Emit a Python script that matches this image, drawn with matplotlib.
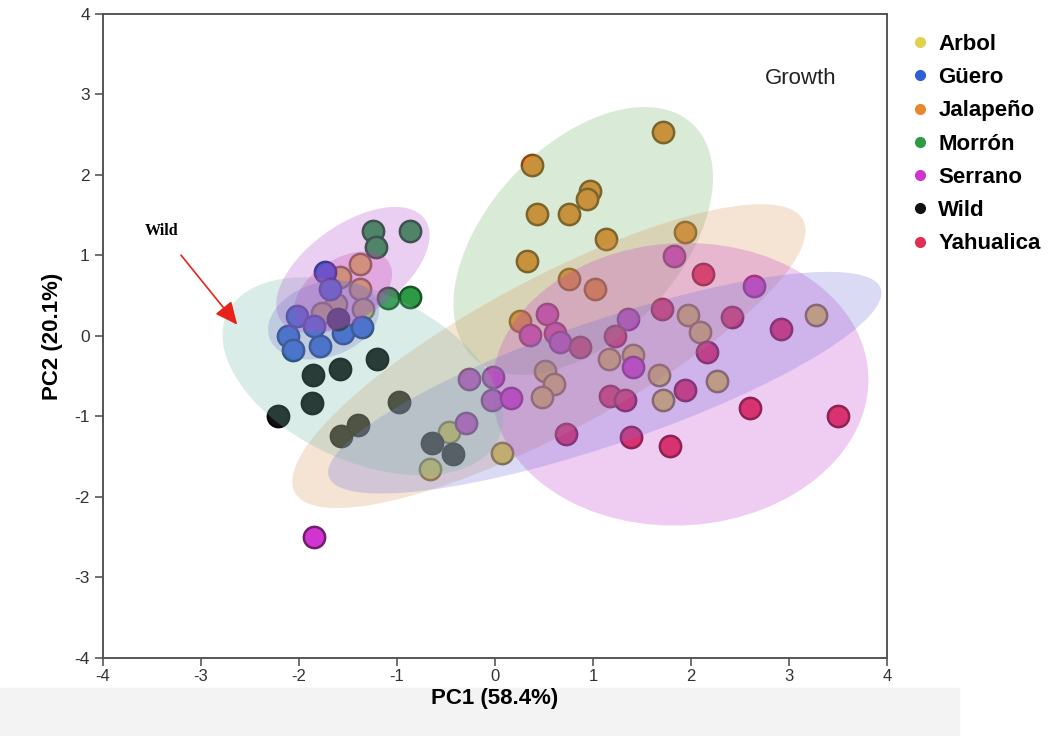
import matplotlib.pyplot as plt
import numpy as np
from matplotlib.patches import Ellipse, Rectangle
from matplotlib.lines import Line2D
from matplotlib.colors import to_rgb

plt.rcParams['font.family'] = ['Liberation Sans', 'DejaVu Sans']
plt.rcParams['axes.unicode_minus'] = False

# PCA scores, one pair of lists per group
arbol_x = [-1.38, -1.58, -1.38, -1.62, -1.35, -1.77, -0.47, -0.66, 0.07, 0.51, 0.60, 0.48,
           1.16, 1.41, 1.67, 1.71, 1.97, 2.09, 2.27, 3.28]
arbol_y = [0.89, 0.73, 0.58, 0.40, 0.34, 0.29, -1.19, -1.65, -1.45, -0.43, -0.60, -0.76,
           -0.29, -0.24, -0.49, -0.80, 0.26, 0.05, -0.56, 0.26]

guero_x = [-1.73, -1.68, -2.02, -2.11, -2.06, -1.79, -1.85, -1.55, -1.36]
guero_y = [0.79, 0.58, 0.25, 0.00, -0.18, -0.12, 0.13, 0.04, 0.11]

jalapeno_x = [1.71, 0.38, 0.97, 0.94, 0.43, 0.76, 1.13, 1.94, 0.33, 0.76, 1.02, 0.26]
jalapeno_y = [2.53, 2.12, 1.80, 1.70, 1.52, 1.52, 1.21, 1.29, 0.93, 0.71, 0.58, 0.19]

morron_x = [-1.25, -0.87, -1.21, -1.09, -0.87]
morron_y = [1.31, 1.31, 1.10, 0.47, 0.49]

serrano_x = [1.83, 2.64, 0.53, 0.36, 0.61, 0.66, 1.36, 1.41, -0.27, -0.02, -0.03, 0.16, -0.30, -1.85]
serrano_y = [0.99, 0.62, 0.27, 0.01, 0.04, -0.08, 0.21, -0.39, -0.54, -0.51, -0.79, -0.77, -1.08, -2.50]

wild_x = [-2.21, -1.86, -1.87, -1.58, -1.20, -1.57, -1.40, -0.98, -0.64, -0.43, -1.60]
wild_y = [-0.99, -0.49, -0.83, -0.41, -0.28, -1.24, -1.11, -0.82, -1.33, -1.47, 0.21]

yahualica_x = [2.12, 1.70, 1.22, 0.87, 2.42, 2.16, 2.92, 1.94, 1.17, 1.33, 2.60, 3.50, 0.72, 1.39, 1.79]
yahualica_y = [0.77, 0.34, 0.00, -0.14, 0.23, -0.20, 0.09, -0.67, -0.75, -0.79, -0.89, -1.00, -1.22, -1.26, -1.37]

groups = ["Arbol", "Güero", "Jalapeño", "Morrón", "Serrano", "Wild", "Yahualica"]
group_x = [arbol_x, guero_x, jalapeno_x, morron_x, serrano_x, wild_x, yahualica_x]
group_y = [arbol_y, guero_y, jalapeno_y, morron_y, serrano_y, wild_y, yahualica_y]
colors = ["#e0d24a", "#2f5fd6", "#e8882e", "#2e9a45", "#d035d0", "#111111", "#e02f52"]

# shaded ellipses (center x, center y, width, height, angle) in data units
ell_cx = [0.90, 0.55, 1.89, 1.12, -1.35, -1.45, -1.55, -1.75]
ell_cy = [1.18, -0.25, -0.60, -0.58, -0.50, 0.82, 0.55, 0.20]
ell_w = [3.7, 6.2, 3.85, 6.1, 3.2, 1.95, 1.2, 1.2]
ell_h = [2.1, 1.8, 3.5, 1.5, 2.0, 1.05, 0.75, 0.9]
ell_ang = [58, 34, 10, 23, -35, 45, 45, 30]
ell_col = ["#6db065", "#dc9458", "#c23bc9", "#7070db", "#70b8a6", "#b048d0", "#c83cb0", "#7070d0"]

fig = plt.figure(figsize=(10.54, 7.36), dpi=100)
fig.patches.append(Rectangle((0, 0), 0.91, 0.065, transform=fig.transFigure,
                             color="#f3f3f3", zorder=-1))
ax = fig.add_axes([0.0977, 0.106, 0.7439, 0.875])

for gx, gy, c in zip(group_x, group_y, colors):
    edge = tuple(v * 0.55 for v in to_rgb(c))
    ax.scatter(gx, gy, s=235, color=c, edgecolors=[edge], linewidths=1.8, zorder=2)

for cx, cy, w, h, a, c in zip(ell_cx, ell_cy, ell_w, ell_h, ell_ang, ell_col):
    ax.add_patch(Ellipse((cx, cy), w, h, angle=a, facecolor=c, edgecolor="none",
                         alpha=0.26, zorder=3))

ax.set_xlim(-4, 4)
ax.set_ylim(-4, 4)
ax.set_xticks(range(-4, 5))
ax.set_yticks(range(-4, 5))
ax.tick_params(direction="out", length=6, width=1.3, color="#666666",
               labelsize=12.5, labelcolor="#333333")
ax.tick_params(axis="x", pad=2, labelsize=12)
for sp in ax.spines.values():
    sp.set_color("#555555")
    sp.set_linewidth(1.4)
ax.set_xlabel("PC1 (58.4%)", fontsize=16, fontweight="bold", labelpad=3)
ax.set_ylabel("PC2 (20.1%)", fontsize=16, fontweight="bold", labelpad=8)

ax.text(3.12, 3.2, "Growth", fontsize=16, ha="center", va="center", color="#222222")
ax.annotate("Wild", xy=(-2.63, 0.14), xytext=(-3.4, 1.3),
            fontsize=11.5, fontweight="bold", family="Liberation Serif", ha="center", va="center",
            arrowprops=dict(arrowstyle="-|>,head_length=1.2,head_width=0.55",
                            color="#e8221a", lw=1.2, shrinkA=12, shrinkB=0))

handles = [Line2D([], [], marker="o", linestyle="none", markersize=7,
                  markerfacecolor=c, markeredgecolor=c) for c in colors]
leg = fig.legend(handles, groups, loc="upper left", bbox_to_anchor=(0.848, 0.975),
                 frameon=False, prop={"weight": "bold", "size": 16},
                 handletextpad=0.3, labelspacing=0.55, handlelength=1.0, borderpad=0.2)

fig.savefig("out.png", dpi=100)
